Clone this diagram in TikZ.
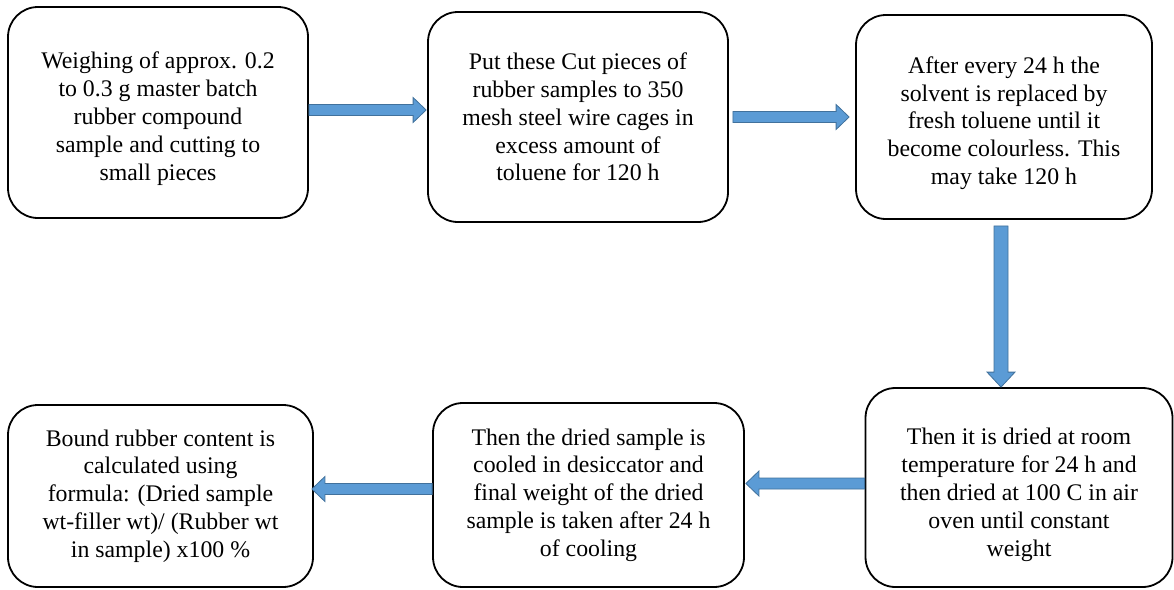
\documentclass[tikz,border=0pt]{standalone}
\usepackage{fontspec}
\setmainfont{LiberationSerif}[Extension=.ttf, UprightFont=*-Regular, BoldFont=*-Bold, ItalicFont=*-Italic]
\usetikzlibrary{calc}
\definecolor{arrowblue}{HTML}{5B9BD5}
\definecolor{arrowedge}{HTML}{41719C}
\tikzset{
  stepbox/.style={draw=black, line width=1.8pt, rounded corners=30pt, align=center,
    inner sep=0pt, font=\rmfamily\fontsize{23.8}{27.8}\selectfont},
  blockarrow/.style={fill=arrowblue, draw=arrowedge, line width=0.8pt, line join=miter}
}
\begin{document}
\begin{tikzpicture}[x=1pt,y=-1pt]
\useasboundingbox (0,0) rectangle (1174,589);
% top row
\node[stepbox, minimum width=300pt, minimum height=211pt] (b1) at (158,112.5)
  {\rule{0pt}{29pt}Weighing of approx. 0.2\\to 0.3 g master batch\\rubber compound\\sample and cutting to\\small pieces};
\node[stepbox, minimum width=300pt, minimum height=210pt] (b2) at (578,117)
  {Put these Cut pieces of\\rubber samples to 350\\mesh steel wire cages in\\excess amount of\\toluene for 120 h};
\node[stepbox, minimum width=296pt, minimum height=204pt] (b3) at (1004,117)
  {\rule{0pt}{29pt}After every 24 h the\\solvent is replaced by\\fresh toluene until it\\become colourless. This\\may take 120 h};
% bottom row
\node[stepbox, minimum width=305pt, minimum height=182pt] (b4) at (160.5,496)
  {Bound rubber content is\\calculated using\\formula: (Dried sample\\wt-filler wt)/ (Rubber wt\\in sample) x100 \%};
\node[stepbox, minimum width=311pt, minimum height=184pt] (b5) at (588.5,495)
  {Then the dried sample is\\cooled in desiccator and\\final weight of the dried\\sample is taken after 24 h\\of cooling};
\node[stepbox, minimum width=307pt, minimum height=199pt] (b6) at (1019,487.5)
  {\rule{0pt}{31pt}Then it is dried at room\\temperature for 24 h and\\then dried at 100 C in air\\oven until constant\\weight};
% arrow 1: b1 -> b2
\filldraw[blockarrow] let \p1=($(b1.east)+(0,-2.5)$), \p2=($(b2.west)+(-1,0)$) in
  (\x1,\y1+5.5pt) -- (\x2-13pt,\y1+5.5pt) -- (\x2-13pt,\y1+12.5pt) -- (\x2,\y1)
  -- (\x2-13pt,\y1-12.5pt) -- (\x2-13pt,\y1-5.5pt) -- (\x1,\y1-5.5pt) -- cycle;
% arrow 2: b2 -> b3
\filldraw[blockarrow] let \p1=($(b2.east)+(4,0)$), \p2=($(b3.west)+(-6,0)$) in
  (\x1,\y1+5.5pt) -- (\x2-13pt,\y1+5.5pt) -- (\x2-13pt,\y1+12.5pt) -- (\x2,\y1)
  -- (\x2-13pt,\y1-12.5pt) -- (\x2-13pt,\y1-5.5pt) -- (\x1,\y1-5.5pt) -- cycle;
% arrow 3: b3 -> b6
\filldraw[blockarrow] let \p1=($(b3.south)+(-3,6)$), \p2=(b6.north) in
  (\x1-7pt,\y1) -- (\x1-7pt,\y2+15pt) -- (\x1-14pt,\y2+15pt) -- (\x1,\y2)
  -- (\x1+14pt,\y2+15pt) -- (\x1+7pt,\y2+15pt) -- (\x1+7pt,\y1) -- cycle;
% arrow 4: b6 -> b5
\filldraw[blockarrow] let \p1=($(b6.west)+(0,-4)$), \p2=($(b5.east)+(1,0)$) in
  (\x1,\y1+5.5pt) -- (\x2+13pt,\y1+5.5pt) -- (\x2+13pt,\y1+12.5pt) -- (\x2,\y1)
  -- (\x2+13pt,\y1-12.5pt) -- (\x2+13pt,\y1-5.5pt) -- (\x1,\y1-5.5pt) -- cycle;
% arrow 5: b5 -> b4
\filldraw[blockarrow] let \p1=($(b5.west)+(0,-6)$), \p2=($(b4.east)+(-2,0)$) in
  (\x1,\y1+5.5pt) -- (\x2+13pt,\y1+5.5pt) -- (\x2+13pt,\y1+12.5pt) -- (\x2,\y1)
  -- (\x2+13pt,\y1-12.5pt) -- (\x2+13pt,\y1-5.5pt) -- (\x1,\y1-5.5pt) -- cycle;
\end{tikzpicture}
\end{document}
